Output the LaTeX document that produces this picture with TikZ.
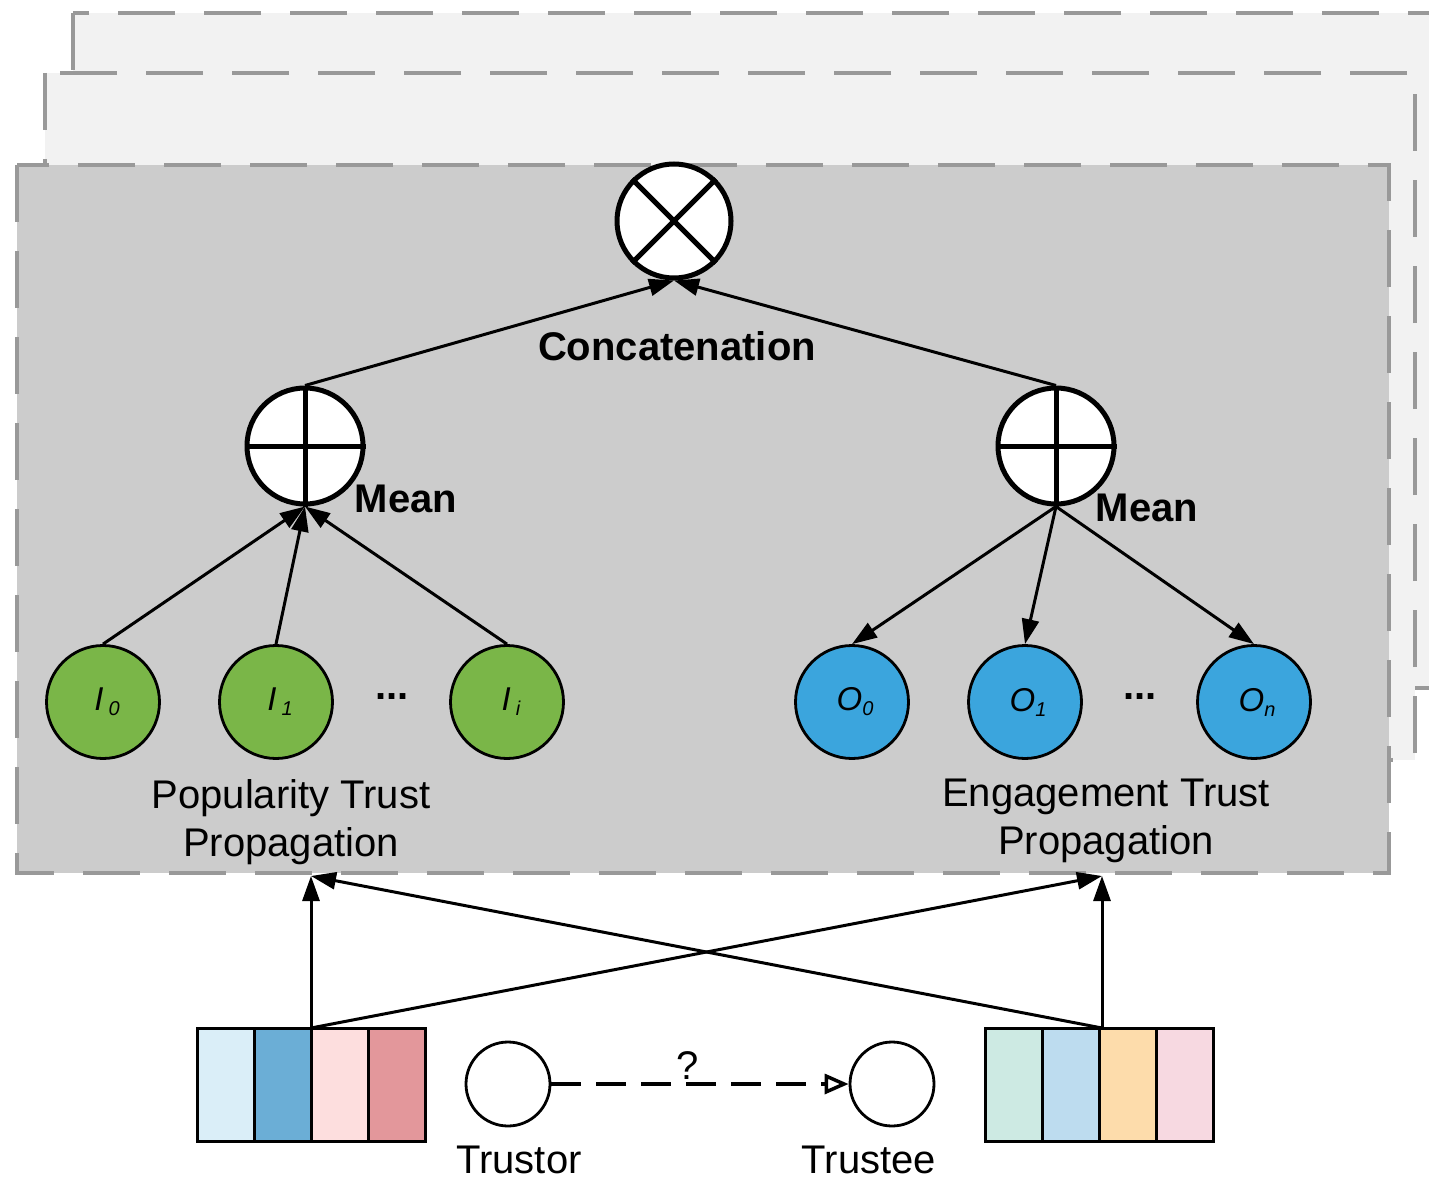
\documentclass[tikz,border=0pt]{standalone}
\usepackage{fontspec}
\setmainfont{Liberation Sans}
\usetikzlibrary{arrows.meta}

\definecolor{panelline}{HTML}{999999}
\definecolor{panelback}{HTML}{F2F2F2}
\definecolor{panelfront}{HTML}{CCCCCC}
\definecolor{leafgreen}{HTML}{7AB648}
\definecolor{leafblue}{HTML}{3BA5DD}
\definecolor{cellA}{HTML}{DAEEF8}
\definecolor{cellB}{HTML}{6BAED6}
\definecolor{cellC}{HTML}{FDDEDE}
\definecolor{cellD}{HTML}{E3979B}
\definecolor{cellE}{HTML}{CDEAE3}
\definecolor{cellF}{HTML}{BDDCEF}
\definecolor{cellG}{HTML}{FDDCAB}
\definecolor{cellH}{HTML}{F7D9E1}

% italic symbol with a lowered index
\newcommand{\leaflabel}[3]{{\fontsize{33}{33}\selectfont\itshape #1\hspace{#3}\raisebox{-5pt}{\fontsize{20}{20}\selectfont #2}}}

\begin{document}
\begin{tikzpicture}[x=1pt,y=-1pt,
  panel/.style={draw=panelline, line width=4pt, dash pattern=on 57pt off 29pt},
  opnode/.style={circle, draw, line width=5pt, fill=white, inner sep=0pt, minimum size=114pt},
  leaf/.style={circle, draw, line width=2.8pt, inner sep=0pt, minimum size=113pt},
  userdot/.style={circle, draw, line width=2.8pt, fill=white, inner sep=0pt, minimum size=84pt},
  cell/.style={draw, line width=3pt, inner sep=0pt, outer sep=0pt, minimum width=57pt, minimum height=113pt},
  arr/.style={-{Triangle[length=25pt,width=17pt]}, line width=3pt},
  txt/.style={font=\fontsize{40}{48}\selectfont, align=center, inner sep=0pt},
  boldtxt/.style={font=\fontsize{40}{48}\selectfont\bfseries, inner sep=0pt},
  dotstxt/.style={font=\fontsize{40}{48}\selectfont\bfseries, inner sep=0pt, anchor=base}
]
\useasboundingbox (0,0) rectangle (1429,1182);

% stacked layers
\begin{scope}
  \clip (0,0) rectangle (1429,1182);
  \draw[panel, fill=panelback] (73,13) rectangle (1470,688);
\end{scope}
\draw[panel, fill=panelback] (45,73) rectangle (1415,760);
\draw[panel, fill=panelfront] (17,165) rectangle (1389,873);

% operators
\node[opnode] (cat) at (674,221) {};
\draw[line width=5pt] (cat.north east) -- (cat.south west) (cat.north west) -- (cat.south east);
\node[opnode, minimum size=116pt] (pmean) at (305,446) {};
\draw[line width=5pt] (pmean.north) -- (pmean.south) (pmean.west) -- (pmean.east);
\node[opnode, minimum size=116pt] (emean) at (1056,446) {};
\draw[line width=5pt] (emean.north) -- (emean.south) (emean.west) -- (emean.east);

\node[boldtxt] (catlbl) at (677,346) {Concatenation};
\node[boldtxt] (pmlbl) at (406,499) {Mean};
\node[boldtxt] (emlbl) at (1147,508) {Mean};

% propagation nodes
\node[leaf, fill=leafgreen] (i0) at (103,702) {\hspace{8pt}\leaflabel{I}{0}{5pt}};
\node[leaf, fill=leafgreen] (i1) at (276,702) {\hspace{8pt}\leaflabel{I}{1}{5pt}};
\node[leaf, fill=leafgreen] (ii) at (507,702) {\hspace{8pt}\leaflabel{I}{i}{5pt}};
\node[dotstxt] (pdots) at (392,699) {...};
\node[leaf, fill=leafblue] (o0) at (852,702) {\hspace{6pt}\leaflabel{O}{0}{0pt}};
\node[leaf, fill=leafblue] (o1) at (1025,702) {\hspace{6pt}\leaflabel{O}{1}{0pt}};
\node[leaf, fill=leafblue] (on) at (1254,702) {\hspace{6pt}\leaflabel{O}{n}{0pt}};
\node[dotstxt] (edots) at (1140,699) {...};

\node[txt] (plbl) at (291,822) {Popularity Trust\\Propagation};
\node[txt] (elbl) at (1106,821) {Engagement Trust\\Propagation};

% aggregation edges
\draw[arr] (i0.north) -- (pmean.south);
\draw[arr] (i1.north) -- (pmean.south);
\draw[arr] (ii.north) -- (pmean.south);
\draw[arr] (emean.south) -- (o0.north);
\draw[arr] (emean.south) -- (o1.north);
\draw[arr] (emean.south) -- (on.north);
\draw[arr] (pmean.north) -- (cat.south);
\draw[arr] (emean.north) -- (cat.south);

% embedding vectors
\node[cell, fill=cellA] (l1) at (225.5,1084.5) {};
\node[cell, fill=cellB] (l2) at (282.5,1084.5) {};
\node[cell, fill=cellC] (l3) at (339.5,1084.5) {};
\node[cell, fill=cellD] (l4) at (396.5,1084.5) {};
\node[cell, fill=cellE] (r1) at (1013.5,1084.5) {};
\node[cell, fill=cellF] (r2) at (1070.5,1084.5) {};
\node[cell, fill=cellG] (r3) at (1127.5,1084.5) {};
\node[cell, fill=cellH] (r4) at (1184.5,1084.5) {};

\coordinate (pin) at (311,876);
\coordinate (ein) at (1102,876);
\coordinate (lvec) at (311,1028);
\coordinate (rvec) at (1102,1028);
\draw[arr] (lvec) -- (pin);
\draw[arr] (lvec) -- (ein);
\draw[arr] (rvec) -- (ein);
\draw[arr] (rvec) -- (pin);

% trust pair
\node[userdot] (tor) at (508,1084) {};
\node[userdot] (tee) at (892,1084) {};
\draw[line width=3.5pt, dash pattern=on 30pt off 15pt,
  -{Triangle[open, length=24pt, width=20pt, fill=white]}] (tor) -- (tee);
\node[txt] (qm) at (688,1066) {?};
\node[txt] (torlbl) at (519,1160) {Trustor};
\node[txt] (teelbl) at (869,1160) {Trustee};
\end{tikzpicture}
\end{document}
